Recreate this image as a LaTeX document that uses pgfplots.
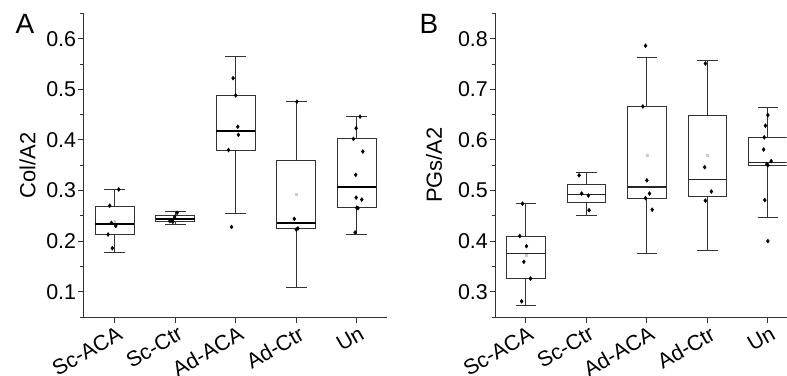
\documentclass[border=0pt]{standalone}
\usepackage{fontspec}
\setmainfont{Liberation Sans}
\usepackage{pgfplots}
\usepgfplotslibrary{statistics}
\pgfplotsset{compat=1.18}
\begin{document}
\begin{tikzpicture}
\pgfplotsset{
  common/.style={
    x=60.5bp, y=506bp,
    axis lines=left, axis line style={-, draw=black!80, line width=0.9bp},
    tick align=outside, tick style={draw=black!80, line width=0.9bp},
    major tick length=5.5bp, minor tick length=3.5bp,
    xtick={1,2,3,4,5}, xticklabels={Sc-ACA,Sc-Ctr,Ad-ACA,Ad-Ctr,Un},
    /pgf/number format/assume math mode=true,
    tick label style={font=\fontsize{21.5}{24}\selectfont},
    xticklabel style={rotate=30, anchor=north east, inner sep=1bp, xshift=1bp, yshift=-2bp},
    yticklabel style={inner sep=1.5bp, /pgf/number format/.cd, fixed, fixed zerofill, precision=1},
    boxplot/draw direction=y,
    boxplot/box extend=0.64,
    boxplot/whisker extend=0.34,
  },
  bx/.style={draw=black!80, line width=0.9bp, solid},
  pts/.style={only marks, mark=diamond*, mark size=2pt, black},
  meanpt/.style={only marks, mark=square*, mark size=0.9pt, black!20},
}
% ---------------- Panel A ----------------
\begin{axis}[common, at={(83.3bp,59bp)}, anchor=origin,
  xmin=0.48, xmax=5.5, ymin=0.05, ymax=0.65,
  ytick={0.1,0.2,0.3,0.4,0.5,0.6},
  minor ytick={0.05,0.15,0.25,0.35,0.45,0.55,0.65},
  ylabel={Col/A2},
  every axis y label/.style={at={(axis description cs:0,0.5)}, xshift=-55.8bp, rotate=90, anchor=center, font=\fontsize{22}{26}\selectfont},
  boxplot/every median/.style={draw=black, line width=2.2bp},
]
\addplot[bx, boxplot prepared={draw position=1, lower whisker=0.177, lower quartile=0.214, median=0.233, upper quartile=0.269, upper whisker=0.302}] coordinates {};
\addplot[bx, boxplot prepared={draw position=2, lower whisker=0.232, lower quartile=0.238, median=0.243, upper quartile=0.251, upper whisker=0.258}] coordinates {};
\addplot[bx, boxplot prepared={draw position=3, lower whisker=0.254, lower quartile=0.380, median=0.4175, upper quartile=0.488, upper whisker=0.564}] coordinates {};
\addplot[bx, boxplot prepared={draw position=4, lower whisker=0.109, lower quartile=0.2245, median=0.235, upper quartile=0.359, upper whisker=0.4755}] coordinates {};
\addplot[bx, boxplot prepared={draw position=5, lower whisker=0.2126, lower quartile=0.266, median=0.3075, upper quartile=0.4024, upper whisker=0.446}] coordinates {};
\addplot[meanpt] coordinates {(1,0.240) (4,0.292)};
\addplot[pts] coordinates {
 (1.066,0.302) (0.917,0.270) (0.945,0.236) (1.017,0.230) (0.89,0.213) (0.96,0.186)
 (2.03,0.256) (1.99,0.2475) (1.95,0.241) (1.91,0.2395) (1.96,0.238)
 (2.956,0.522) (3.0,0.488) (3.033,0.426) (3.044,0.410) (2.88,0.380) (2.93,0.228)
 (4.01,0.4755) (3.967,0.244) (4.028,0.225) (4.0,0.223)
 (5.055,0.446) (4.99,0.423) (4.945,0.402) (5.1,0.377) (4.983,0.331) (4.99,0.286) (5.083,0.282) (5.0,0.266) (5.02,0.265) (4.972,0.217)
};
\coordinate (Asw) at (axis cs:0.48,0.05);
\end{axis}
% ---------------- Panel B ----------------
\begin{axis}[common, at={(495bp,59bp)}, anchor=origin,
  xmin=0.49, xmax=5.31, ymin=0.25, ymax=0.85,
  ytick={0.3,0.4,0.5,0.6,0.7,0.8},
  minor ytick={0.25,0.35,0.45,0.55,0.65,0.75,0.85},
  ylabel={PGs/A2},
  every axis y label/.style={at={(axis description cs:0,0.5)}, xshift=-61bp, rotate=90, anchor=center, font=\fontsize{22}{26}\selectfont},
  boxplot/every median/.style={draw=black!85, line width=1.1bp},
]
\addplot[bx, boxplot prepared={draw position=1, lower whisker=0.273, lower quartile=0.3257, median=0.375, upper quartile=0.410, upper whisker=0.474}] coordinates {};
\addplot[bx, boxplot prepared={draw position=2, lower whisker=0.451, lower quartile=0.476, median=0.4924, upper quartile=0.5115, upper whisker=0.5365}] coordinates {};
\addplot[bx, boxplot prepared={draw position=3, lower whisker=0.376, lower quartile=0.485, median=0.507, upper quartile=0.666, upper whisker=0.762}] coordinates {};
\addplot[bx, boxplot prepared={draw position=4, lower whisker=0.381, lower quartile=0.4884, median=0.522, upper quartile=0.6485, upper whisker=0.7565}] coordinates {};
\addplot[bx, boxplot prepared={draw position=5, lower whisker=0.4476, lower quartile=0.550, median=0.556, upper quartile=0.605, upper whisker=0.6636}] coordinates {};
\addplot[meanpt] coordinates {(1,0.372) (3,0.569) (4,0.569)};
\addplot[pts] coordinates {
 (0.945,0.474) (0.90,0.410) (1.01,0.390) (0.967,0.359) (1.077,0.326) (0.93,0.281)
 (1.88,0.530) (1.923,0.494) (2.033,0.490) (2.044,0.461)
 (2.978,0.786) (2.934,0.666) (3.0,0.520) (3.044,0.494) (2.978,0.485) (3.088,0.462)
 (3.967,0.751) (3.956,0.546) (4.066,0.498) (3.967,0.480)
 (5.0,0.649) (4.96,0.628) (4.94,0.605) (4.93,0.581) (5.055,0.558) (4.984,0.552) (5.0,0.550) (4.95,0.481) (5.0,0.400)
};
\end{axis}
\begin{scope}[shift={(Asw)}]
\node[font=\fontsize{28}{32}\selectfont, anchor=center] at (-58.3bp,293bp) {A};
\node[font=\fontsize{28}{32}\selectfont, anchor=center] at (345.7bp,293bp) {B};
\pgfresetboundingbox
\path[use as bounding box] (-83.3bp,-59bp) rectangle (703.7bp,317bp);
\end{scope}
\end{tikzpicture}
\end{document}
